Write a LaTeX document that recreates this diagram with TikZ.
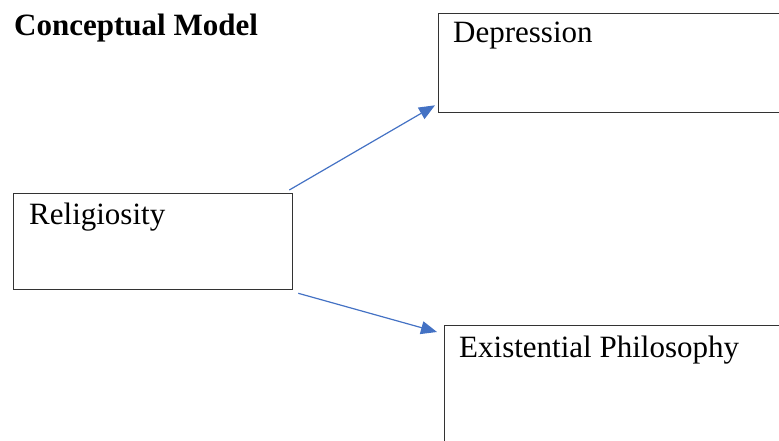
\documentclass[tikz,border=0pt]{standalone}
\usepackage{fontspec}
\setmainfont{Liberation Serif}
\usetikzlibrary{arrows.meta}
\definecolor{arrowblue}{HTML}{4472C4}
\definecolor{boxline}{HTML}{333333}
\tikzset{
  box/.style={draw=boxline, line width=1.3pt, rectangle, anchor=north west, inner sep=0pt},
  lbl/.style={anchor=base west, inner sep=0pt, font=\fontsize{31}{36}\selectfont},
  conn/.style={draw=arrowblue, line width=1.2pt, -{Triangle[length=16pt,width=13pt]}}
}
\begin{document}
\begin{tikzpicture}[x=1pt,y=-1pt]
\useasboundingbox (0,0) rectangle (779,441);
\clip (0,0) rectangle (779,441);
\node[lbl, font=\fontsize{31}{36}\selectfont\bfseries] (title) at (14,36) {Conceptual Model};
\node[box, minimum width=279pt, minimum height=96pt] (rel) at (13,193) {};
\node[box, minimum width=500pt, minimum height=99pt] (dep) at (438,13) {};
\node[box, minimum width=500pt, minimum height=200pt] (exi) at (444,325) {};
\node[lbl] (reltext) at ([shift={(16,31)}]rel.north west) {Religiosity};
\node[lbl] (deptext) at ([shift={(15,30)}]dep.north west) {Depression};
\node[lbl] (exitext) at ([shift={(15,32)}]exi.north west) {Existential Philosophy};
\draw[conn] ([shift={(-4,-3)}]rel.north east) -- ([shift={(-3,-8)}]dep.south west);
\draw[conn] ([shift={(5,3)}]rel.south east) -- ([shift={(-7,7)}]exi.north west);
\end{tikzpicture}
\end{document}
